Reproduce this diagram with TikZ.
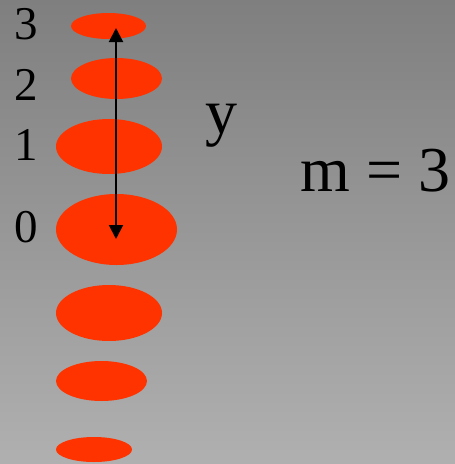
\documentclass[tikz,border=0pt]{standalone}
\usepackage{fontspec}
\setmainfont{Liberation Serif}
\usetikzlibrary{positioning,arrows.meta,shapes.geometric}
\definecolor{BlobRed}{HTML}{FF3300}
\definecolor{GreyTop}{HTML}{7F7F7F}
\definecolor{GreyLow}{HTML}{B0B0B0}

\begin{document}
\begin{tikzpicture}[x=1pt,y=-1pt,
    blob/.style={ellipse,fill=BlobRed,inner sep=0pt},
    lvl/.style={anchor=base,inner sep=0pt,font=\fontsize{47}{50}\selectfont},
    big/.style={anchor=base,inner sep=0pt,font=\fontsize{64}{70}\selectfont}]
  \shade[top color=GreyTop,bottom color=GreyLow] (0,0) rectangle (455,464);
  \useasboundingbox (0,0) rectangle (455,464);
  \node[blob,minimum width=75pt,minimum height=26pt] (e3) at (108.5,26) {};
  \node[blob,minimum width=91pt,minimum height=41pt] (e2) at (116.5,78.5) {};
  \node[blob,minimum width=106pt,minimum height=55pt] (e1) at (109,146.5) {};
  \node[blob,minimum width=121pt,minimum height=71pt] (e0) at (116.5,229.5) {};
  \node[blob,minimum width=106pt,minimum height=56pt] (em1) at (109,313) {};
  \node[blob,minimum width=91pt,minimum height=40pt] (em2) at (101.5,381) {};
  \node[blob,minimum width=76pt,minimum height=25pt] (em3) at (94,449.5) {};
  \node[lvl] (l3) at (26,39) {3};
  \node[lvl] (l2) at (26,100) {2};
  \node[lvl] (l1) at (26,160) {1};
  \node[lvl] (l0) at (26,242) {0};
  \node[big] (y) at (221,133) {y};
  \node[big] (m) at (375.5,191) {m = 3};
  \coordinate (top) at (116,28);
  \coordinate (bot) at (116,239);
  \draw[line width=2pt,{Triangle[length=14pt,width=14pt]}-{Triangle[length=14pt,width=14pt]}] (top) -- (bot);
\end{tikzpicture}
\end{document}
